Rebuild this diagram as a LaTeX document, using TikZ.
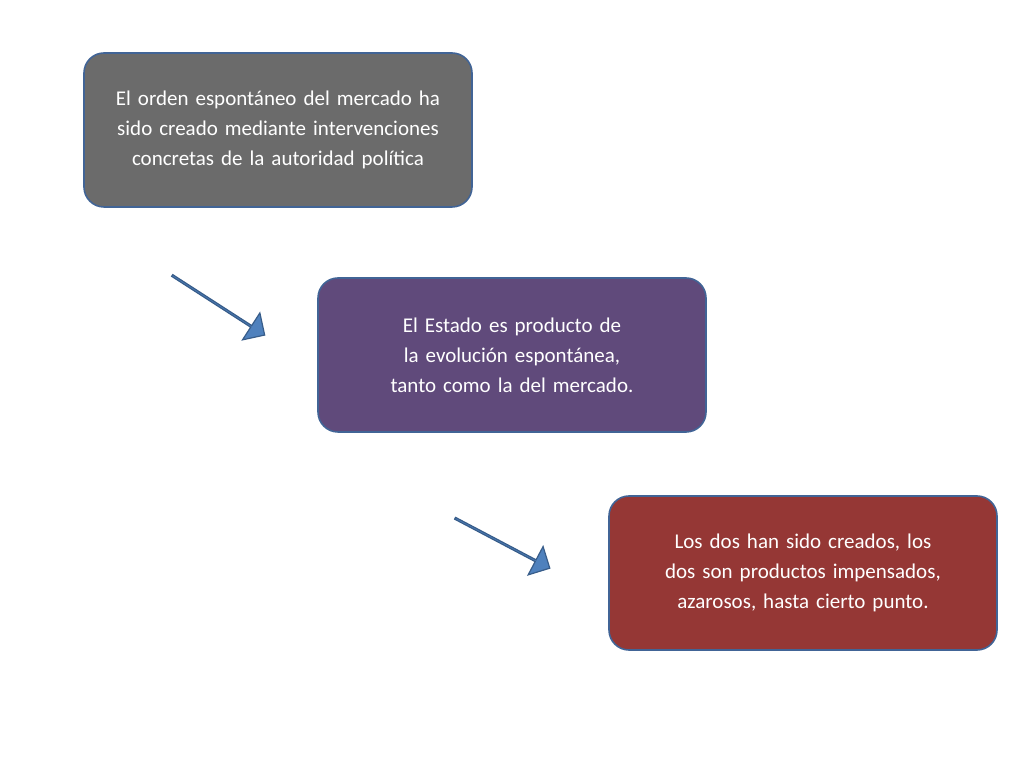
\documentclass[tikz,border=0pt]{standalone}
\usepackage{fontspec}
\setmainfont{Carlito}
\usetikzlibrary{shapes.arrows}
\definecolor{boxline}{RGB}{65,100,150}
\definecolor{grayfill}{RGB}{107,107,107}
\definecolor{purplefill}{RGB}{96,74,123}
\definecolor{redfill}{RGB}{149,55,53}
\definecolor{arrowfill}{RGB}{79,129,189}
\definecolor{arrowline}{RGB}{56,93,138}
\tikzset{
  idea/.style={draw=boxline, line width=1.6pt, rounded corners=20pt, minimum width=388pt,
    minimum height=154pt, text width=350pt, align=center, text=white, font=\fontsize{21}{30}\selectfont},
  blockarrow/.style={single arrow, draw=arrowline, fill=arrowfill, line width=1.2pt, inner sep=0pt,
    minimum width=32pt, minimum height=110pt, single arrow head extend=9pt}
}
\begin{document}
\begin{tikzpicture}[x=1pt,y=1pt]
\useasboundingbox (0,0) rectangle (1024,768);

% boxes
\node [idea, fill=grayfill] (orden) at (278,638) {El orden espontáneo del mercado ha sido creado mediante intervenciones concretas de la autoridad política};
\node [idea, fill=purplefill] (estado) at (512,413) {El Estado es producto de la evolución espontánea, tanto como la del mercado.};
\node [idea, fill=redfill] (ambos) at (803,195) {Los dos han sido creados, los dos son productos impensados, azarosos, hasta cierto punto.};

% arrows
\node [blockarrow, rotate=-32.8] (flecha1) at (218,463) {};
\node [blockarrow, rotate=-27.8, minimum height=107pt] (flecha2) at (502,225) {};

\end{tikzpicture}
\end{document}
